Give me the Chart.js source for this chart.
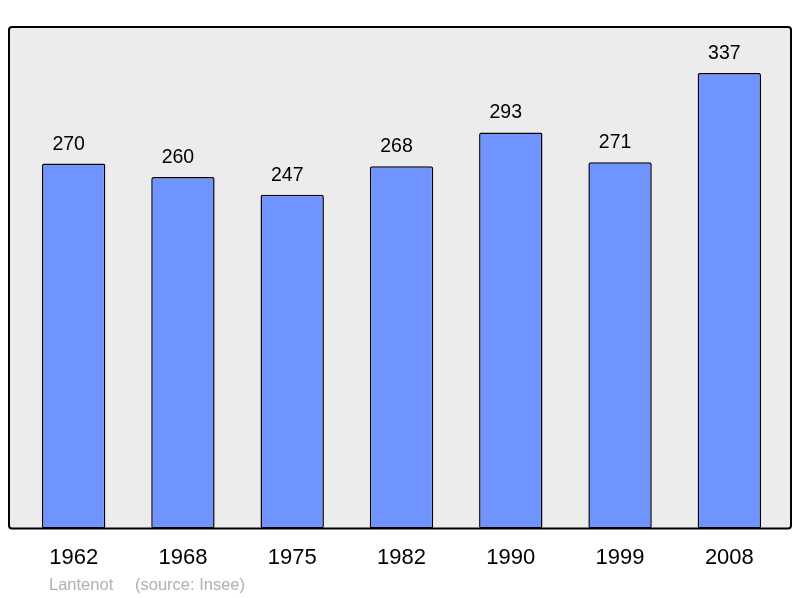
<!DOCTYPE html>
<html>
<head>
<meta charset="utf-8">
<script src="https://cdn.jsdelivr.net/npm/chart.js@4"></script>
<style>
    html, body { margin: 0; padding: 0; background: #ffffff; }
    #wrap { width: 800px; height: 598px; position: relative; }
</style>
</head>
<body>
<div id="wrap"><canvas id="popChart" width="800" height="598"></canvas></div>
<script>
const years = ["1962", "1968", "1975", "1982", "1990", "1999", "2008"];
const population = [270, 260, 247, 268, 293, 271, 337];
const footerName = "Lantenot";
const footerSource = "(source: Insee)";

// grey panel with a black frame behind the bars
const panelPlugin = {
    id: "panel",
    beforeDraw(chart) {
        const a = chart.chartArea;
        const c = chart.ctx;
        c.save();
        c.beginPath();
        c.roundRect(a.left - 10, a.top, (a.right - a.left) + 17, a.bottom - a.top, 3);
        c.fillStyle = "#ececec";
        c.fill();
        c.lineWidth = 2;
        c.strokeStyle = "#000000";
        c.stroke();
        c.restore();
    },
    afterDatasetsDraw(chart) {
        const c = chart.ctx;
        const meta = chart.getDatasetMeta(0);
        c.save();
        c.font = "19.5px 'Liberation Sans', Arial, sans-serif";
        c.fillStyle = "#000000";
        c.textAlign = "center";
        c.textBaseline = "alphabetic";
        // value labels sit a little left of the bar centre, like the original
        meta.data.forEach(function (bar, i) {
            c.fillText(String(population[i]), bar.x - 5, bar.y - 14);
        });
        c.font = "16.5px 'Liberation Sans', Arial, sans-serif";
        c.fillStyle = "#b0b0b0";
        c.textAlign = "left";
        c.fillText(footerName, 49, 590);
        c.fillText(footerSource, 135, 590);
        c.restore();
    }
};

let ctx = document.getElementById("popChart").getContext("2d");
let popChart = new Chart(ctx, {
    type: "bar",
    data: {
        labels: years,
        datasets: [{
            data: population,
            backgroundColor: "#7094ff",
            borderColor: "#000000",
            borderWidth: 1.5,
            borderRadius: 2,
            borderSkipped: false,
            barPercentage: 0.58,
            categoryPercentage: 1.0
        }]
    },
    options: {
        responsive: false,
        animation: false,
        devicePixelRatio: 1,
        layout: { padding: { left: 19, right: 16, top: 27, bottom: 11 } },
        plugins: {
            legend: { display: false },
            tooltip: { enabled: false }
        },
        scales: {
            x: {
                grid: { display: false, drawTicks: false },
                border: { display: false },
                ticks: {
                    color: "#000000",
                    padding: 16,
                    autoSkip: false,
                    maxRotation: 0,
                    font: { family: "'Liberation Sans', Arial, sans-serif", size: 22 }
                }
            },
            y: {
                display: false,
                min: 0,
                max: 371
            }
        }
    },
    plugins: [panelPlugin]
});
</script>
</body>
</html>
